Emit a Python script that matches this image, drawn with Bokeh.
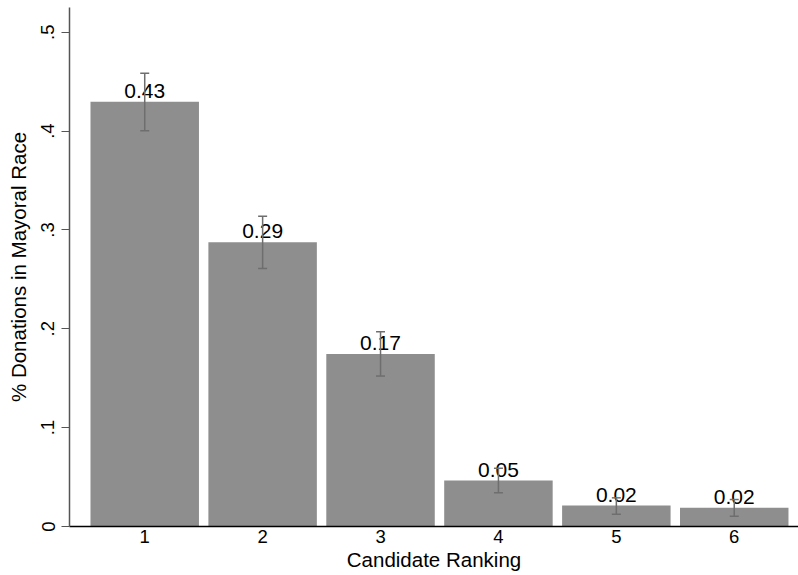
from bokeh.plotting import figure
from bokeh.models import ColumnDataSource, Range1d, Whisker, TeeHead, FixedTicker, CustomJSTickFormatter
from bokeh.core.properties import value
from bokeh.embed import file_html
from bokeh.resources import INLINE

# Data
ranking = [1, 2, 3, 4, 5, 6]
share = [0.4296, 0.2876, 0.1745, 0.0465, 0.0212, 0.0189]
ci_upper = [0.4586, 0.3139, 0.1970, 0.0589, 0.0290, 0.0273]
ci_lower = [0.4002, 0.2610, 0.1522, 0.0341, 0.0124, 0.0104]
y_ticks = [0, 0.1, 0.2, 0.3, 0.4, 0.5]
labels = ["{:.2f}".format(v) for v in share]

FONT = "Liberation Sans"

src = ColumnDataSource(dict(x=ranking, y=share, upper=ci_upper, lower=ci_lower, label=labels))

p = figure(width=798, height=575,
           x_range=Range1d(0.362, 6.545), y_range=Range1d(0, 0.525),
           output_backend="svg", toolbar_location=None,
           min_border_left=69, min_border_right=0, min_border_top=7, min_border_bottom=49)

p.outline_line_color = None
p.xgrid.grid_line_color = None
p.ygrid.grid_line_color = None
p.background_fill_color = "white"
p.border_fill_color = "white"

p.vbar(x="x", top="y", width=0.92, source=src, fill_color="#8e8e8e", line_color=None)

p.text(x="x", y="y", text="label", source=src, text_align="center", text_baseline="bottom",
       text_font=value(FONT), text_font_size="21px", text_color="black", y_offset=-4)

w = Whisker(base="x", upper="upper", lower="lower", source=src,
            line_color="#6e6e6e", line_width=1.5, level="annotation",
            upper_head=TeeHead(size=9, line_color="#6e6e6e", line_width=1.5),
            lower_head=TeeHead(size=9, line_color="#6e6e6e", line_width=1.5))
p.add_layout(w)

# x axis
xa = p.xaxis[0]
xa.ticker = FixedTicker(ticks=ranking)
xa.axis_label = "Candidate Ranking"
xa.axis_label_text_font = FONT
xa.axis_label_text_font_size = "20.5px"
xa.axis_label_text_font_style = "normal"
xa.axis_label_text_color = "black"
xa.axis_label_standoff = 2
xa.major_label_text_font = FONT
xa.major_label_text_font_size = "18.5px"
xa.major_label_text_color = "black"
xa.major_label_standoff = 3
xa.major_tick_out = 0
xa.major_tick_in = 0
xa.minor_tick_out = 0
xa.minor_tick_in = 0
xa.axis_line_color = "black"
xa.axis_line_width = 1.5

# y axis
ya = p.yaxis[0]
ya.ticker = FixedTicker(ticks=y_ticks)
ya.formatter = CustomJSTickFormatter(code="""
    if (Math.abs(tick) < 1e-9) { return "0"; }
    return tick.toFixed(1).replace(/^0/, "");
""")
ya.axis_label = "% Donations in Mayoral Race"
ya.axis_label_text_font = FONT
ya.axis_label_text_font_size = "20.5px"
ya.axis_label_text_font_style = "normal"
ya.axis_label_text_color = "black"
ya.axis_label_standoff = 9
ya.major_label_text_font = FONT
ya.major_label_text_font_size = "18.5px"
ya.major_label_text_color = "black"
ya.major_label_orientation = "vertical"
ya.major_label_standoff = 7
ya.major_tick_out = 8
ya.major_tick_in = 0
ya.minor_tick_out = 0
ya.minor_tick_in = 0
ya.major_tick_line_color = "#555555"
ya.axis_line_color = "#555555"
ya.axis_line_width = 1.5

open("out.html", "w").write(file_html(p, INLINE))
